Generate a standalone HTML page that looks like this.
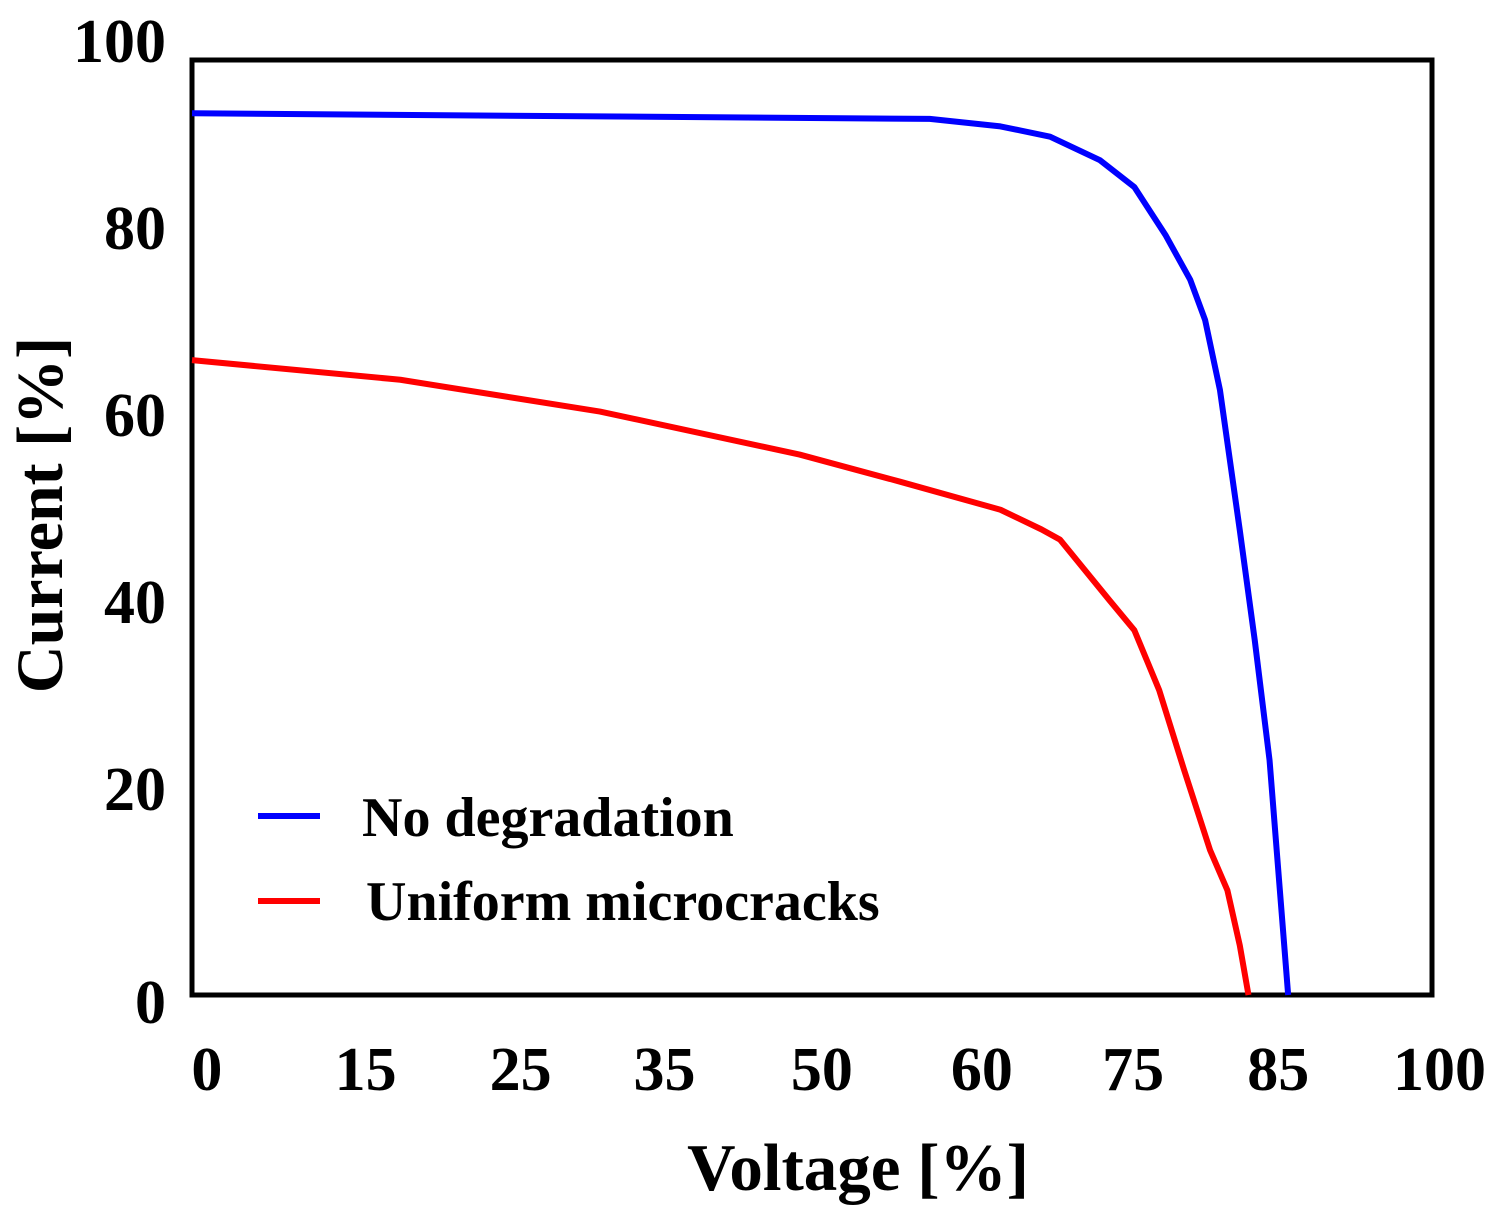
<!DOCTYPE html>
<html><head><meta charset="utf-8"><style>
html,body{margin:0;padding:0;background:#fff;}
svg text{font-family:"Liberation Serif",serif;font-weight:bold;fill:#000;}
</style></head><body>
<svg id="chart" width="1498" height="1217" viewBox="0 0 1498 1217">
<rect x="192" y="60" width="1240" height="935" fill="none" stroke="#000" stroke-width="5"/>
<g id="curves"></g>
<g id="xticks"></g>
<g id="yticks"></g>
<text x="858" y="1190" font-size="67" text-anchor="middle">Voltage [%]</text>
<text transform="translate(62,515) rotate(-90)" font-size="66" text-anchor="middle">Current [%]</text>
<g>
<line x1="258" y1="816" x2="320" y2="816" stroke="#0000ff" stroke-width="6"/>
<text x="362" y="836" font-size="56">No degradation</text>
<line x1="258" y1="901" x2="320" y2="901" stroke="#ff0000" stroke-width="6"/>
<text x="366" y="920" font-size="56">Uniform microcracks</text>
</g>
</svg>
<script>
const blueX = [0,59.5,65.2,69.2,73.2,76.0,78.5,80.5,81.7,82.9,84.5,85.7,86.9,88.4];
const blueY = [94.3,93.7,92.9,91.8,89.3,86.4,81.3,76.5,72.2,64.7,49.7,38.0,25.1,0];
const redX = [0,16.8,32.9,49.0,57.1,65.2,68.5,70.0,74.0,76.0,78.0,80.0,82.1,83.5,84.5,85.2];
const redY = [67.9,65.8,62.4,57.8,54.9,51.9,49.8,48.7,42.2,39.0,32.6,24.1,15.5,11.2,5.3,0];
const xTickLabels = ["0","15","25","35","50","60","75","85","100"];
const xTickPos = [1.2,14,26.5,38.1,50.8,63.7,75.9,87.6,100.6];
const yTickLabels = ["0","20","40","60","80","100"];
const yTickVals = [0,20,40,60,80,100];

const X0=192,X1=1432,Y0=995,Y1=60;
function sx(v){return X0+(X1-X0)*v/100;}
function sy(v){return Y0-(Y0-Y1)*v/100;}
const NS="http://www.w3.org/2000/svg";
function addCurve(xs,ys,color,name){
  const p=document.createElementNS(NS,'polyline');
  p.setAttribute('points',xs.map((x,i)=>sx(x)+','+sy(ys[i])).join(' '));
  p.setAttribute('fill','none');p.setAttribute('stroke',color);
  p.setAttribute('stroke-width','6');p.setAttribute('stroke-linejoin','round');
  
  
  document.getElementById('curves').appendChild(p);
}
addCurve(blueX,blueY,'#0000ff','no-degradation-curve');
addCurve(redX,redY,'#ff0000','uniform-microcracks-curve');
xTickLabels.forEach((l,i)=>{
  const t=document.createElementNS(NS,'text');
  t.setAttribute('x',sx(xTickPos[i]));t.setAttribute('y',1090);
  t.setAttribute('font-size','62');t.setAttribute('text-anchor','middle');
  t.textContent=l;
  
  
  document.getElementById('xticks').appendChild(t);
});
yTickLabels.forEach((l,i)=>{
  const t=document.createElementNS(NS,'text');
  t.setAttribute('x',166);t.setAttribute('y',sy(yTickVals[i])+(yTickVals[i]===0?28:2));
  t.setAttribute('font-size','62');t.setAttribute('text-anchor','end');
  t.textContent=l;
  
  
  document.getElementById('yticks').appendChild(t);
});
</script>
</body></html>
